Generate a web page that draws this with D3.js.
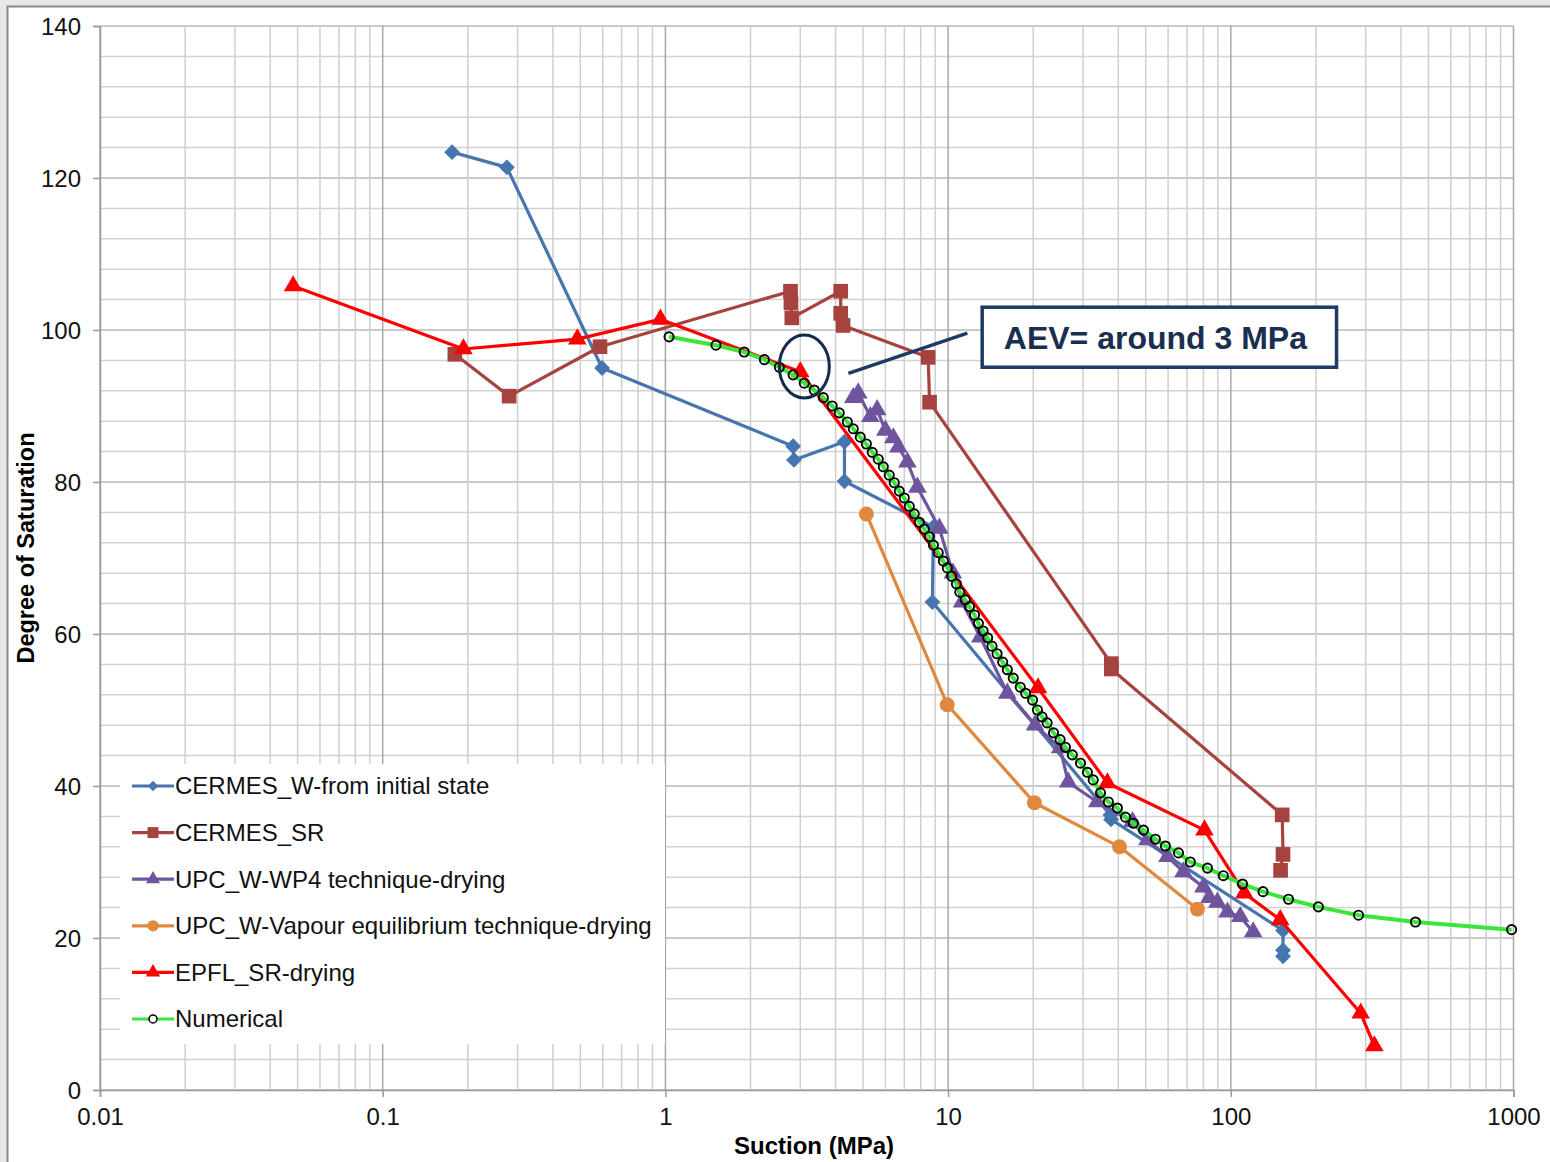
<!DOCTYPE html>
<html>
<head>
<meta charset="utf-8">
<script src="https://cdn.jsdelivr.net/npm/d3@7"></script>
<style>
  body { margin: 0; background: #e9e9e9; }
  svg { display: block; font-family: "Liberation Sans", Arial, sans-serif; }
</style>
</head>
<body>
<svg width="1550" height="1162"></svg>
<script>
// series: suction (MPa) and degree of saturation (%)
var cermesW_x = [0.176, 0.275, 0.597, 2.83, 2.85, 4.30, 4.30, 8.87, 8.80, 37.5, 37.7, 153, 153, 153];
var cermesW_y = [123.4, 121.4, 95.0, 84.7, 82.9, 85.3, 80.1, 74.1, 64.2, 36.2, 35.6, 21.0, 18.4, 17.6];

var cermesSR_x = [0.180, 0.280, 0.587, 2.77, 2.78, 2.80, 4.17, 4.17, 4.25, 8.5, 8.6, 37.8, 37.8, 152, 153, 150];
var cermesSR_y = [96.8, 91.3, 97.8, 105.1, 103.6, 101.6, 105.1, 102.2, 100.6, 96.4, 90.5, 56.1, 55.4, 36.2, 31.0, 28.9];

var upcWP4_x = [4.62, 4.81, 5.31, 5.61, 6.0, 6.4, 6.67, 7.18, 7.79, 9.31, 10.4, 11.2, 13.0, 16.2, 20.3, 24.9,
                26.6, 33.7, 44.9, 50.7, 59.7, 68, 80, 84, 89.7, 97.3, 108, 120];
var upcWP4_y = [91.1, 91.7, 88.6, 89.5, 86.8, 85.8, 84.6, 82.6, 79.3, 73.9, 68.0, 64.2, 59.6, 52.2, 48.0, 45.0,
                40.5, 37.9, 35.3, 32.9, 30.7, 28.7, 26.7, 25.3, 24.7, 23.4, 22.8, 20.8];

var upcVap_x = [5.14, 9.93, 20.2, 40.4, 76.2];
var upcVap_y = [75.8, 50.7, 37.8, 32.0, 23.8];

var epfl_x = [0.0482, 0.193, 0.488, 0.96, 3.0, 20.8, 36.6, 80.7, 111.6, 149.6, 288, 322];
var epfl_y = [105.8, 97.5, 98.8, 101.4, 94.5, 52.9, 40.4, 34.2, 25.9, 22.4, 10.1, 5.8];

var num_x = [1.03, 1.51, 1.90, 2.24, 2.53, 2.83, 3.10, 3.36, 3.62, 3.89, 4.12, 4.40, 4.62, 4.89, 5.14, 5.39,
             5.66, 5.90, 6.19, 6.45, 6.72, 7.00, 7.29, 7.59, 7.91, 8.24, 8.58, 8.87, 9.23, 9.62, 9.94, 10.3,
             10.7, 11.0, 11.5, 11.9, 12.4, 12.8, 13.3, 13.8, 14.3, 14.9, 15.6, 16.2, 17.0, 18.0, 18.8, 19.9,
             20.7, 21.5, 22.4, 23.6, 24.9, 26.0, 27.5, 29.4, 31.1, 32.6, 34.6, 36.9, 39.7, 42.4, 45.2, 49.1,
             54.1, 58.7, 65.3, 71.9, 82.7, 94.1, 110, 130, 160, 204, 283, 450, 985];
var num_y = [99.1, 98.0, 97.1, 96.1, 95.1, 94.1, 93.0, 92.1, 91.1, 90.0, 89.1, 87.9, 87.0, 85.9, 85.0, 83.9,
             83.0, 82.0, 80.9, 79.9, 78.8, 77.9, 76.8, 75.8, 74.7, 73.8, 72.8, 71.7, 70.7, 69.6, 68.7, 67.6,
             66.6, 65.5, 64.5, 63.6, 62.5, 61.4, 60.4, 59.5, 58.4, 57.4, 56.3, 55.3, 54.2, 53.0, 52.2, 51.3,
             50.0, 49.1, 48.3, 47.0, 46.1, 45.1, 44.1, 43.0, 41.8, 40.8, 39.1, 37.9, 37.1, 35.9, 35.1, 34.2,
             33.0, 32.1, 31.2, 30.0, 29.2, 28.2, 27.1, 26.1, 25.1, 24.1, 23.0, 22.1, 21.1];

var seriesNames = ["CERMES_W-from initial state", "CERMES_SR", "UPC_W-WP4 technique-drying",
                   "UPC_W-Vapour equilibrium technique-drying", "EPFL_SR-drying", "Numerical"];
var xTicks = [0.01, 0.1, 1, 10, 100, 1000];
var yTicks = [0, 20, 40, 60, 80, 100, 120, 140];

var svg = d3.select("svg"),
    margin = {left: 100, top: 26, right: 36, bottom: 72},
    width = +svg.attr("width"),
    height = +svg.attr("height");

// grey frame the chart sits in
svg.append("rect").attr("x", 0).attr("y", 0).attr("width", width).attr("height", height).attr("fill", "#e8e8e8");
svg.append("rect").attr("x", 7.5).attr("y", 6.5).attr("width", width).attr("height", height)
    .attr("fill", "#fff").attr("stroke", "#8a8a8a").attr("stroke-width", 2);

var x = d3.scaleLog().domain([0.01, 1000]).range([margin.left, width - margin.right - 0.5]);
var y = d3.scaleLinear().domain([0, 140]).range([height - margin.bottom, margin.top]);

// gridlines
var minorY = d3.range(0, 141, 4);
svg.append("g").selectAll("line").data(minorY).enter().append("line")
    .attr("x1", x(0.01)).attr("x2", x(1000))
    .attr("y1", function(d) { return y(d); }).attr("y2", function(d) { return y(d); })
    .attr("stroke", function(d) { return d % 20 === 0 ? "#b9b9b9" : "#d2d2d2"; })
    .attr("stroke-width", 1.5);

var minorX = [];
[0.01, 0.1, 1, 10, 100].forEach(function(b) { for (var k = 1; k < 10; k++) minorX.push(b * k); });
minorX.push(1000);
svg.append("g").selectAll("line").data(minorX).enter().append("line")
    .attr("x1", function(d) { return x(d); }).attr("x2", function(d) { return x(d); })
    .attr("y1", y(140)).attr("y2", y(0))
    .attr("stroke", function(d) { return xTicks.indexOf(d) >= 0 ? "#a8a8a8" : "#cfcfcf"; })
    .attr("stroke-width", 1.5);

// axes
var yAxis = svg.append("g").attr("transform", "translate(" + x(0.01) + ",0)")
    .call(d3.axisLeft(y).tickValues(yTicks).tickSize(7).tickPadding(12));
var xAxis = svg.append("g").attr("transform", "translate(0," + y(0) + ")")
    .call(d3.axisBottom(x).tickValues(xTicks).tickSize(7).tickPadding(11)
      .tickFormat(function(d) { return d < 1 ? String(d) : d3.format("d")(d); }));
[xAxis, yAxis].forEach(function(a) {
  a.selectAll("path").attr("stroke", "#9a9a9a").attr("stroke-width", 1.5);
  a.selectAll("line").attr("stroke", "#9a9a9a").attr("stroke-width", 1.5);
  a.selectAll("text").attr("font-size", 24).attr("fill", "#111").style("font-family", "Liberation Sans, Arial");
});
yAxis.selectAll("text").attr("dy", "0.35em");

svg.append("text").attr("x", 814).attr("y", 1154).attr("text-anchor", "middle")
    .attr("font-size", 24).attr("font-weight", "bold").text("Suction (MPa)");
svg.append("text").attr("transform", "translate(34,548) rotate(-90)").attr("text-anchor", "middle")
    .attr("font-size", 23.5).attr("font-weight", "bold").text("Degree of Saturation");

// legend background hides the grid underneath
var legendTop = 764;
svg.append("rect").attr("x", 120).attr("y", legendTop).attr("width", 545).attr("height", 280).attr("fill", "#fff");

var colors = ["#4675b0", "#a6433f", "#6e559d", "#e0883e", "#ff0000", "#3be63b"];

function zip(xs, ys) { return xs.map(function(v, i) { return [v, ys[i]]; }); }
var line = d3.line().x(function(d) { return x(d[0]); }).y(function(d) { return y(d[1]); });

var series = [
  {pts: zip(cermesW_x, cermesW_y), sym: d3.symbolSquare, size: 125, rot: 45, lsize: 55},
  {pts: zip(cermesSR_x, cermesSR_y), sym: d3.symbolSquare, size: 215, rot: 0, lsize: 120},
  {pts: zip(upcWP4_x, upcWP4_y), sym: d3.symbolTriangle, size: 150, rot: 0, lsize: 85},
  {pts: zip(upcVap_x, upcVap_y), sym: d3.symbolCircle, size: 175, rot: 0, lsize: 100},
  {pts: zip(epfl_x, epfl_y), sym: d3.symbolTriangle, size: 150, rot: 0, lsize: 90},
  {pts: zip(num_x, num_y), sym: null}
];

var plot = svg.append("g");
series.forEach(function(s, i) {
  plot.append("path").datum(s.pts).attr("d", line)
      .attr("fill", "none").attr("stroke", colors[i]).attr("stroke-width", i === 5 ? 4 : 3.2)
      .attr("stroke-linejoin", "round");
  if (s.sym) {
    plot.selectAll(".m" + i).data(s.pts).enter().append("path")
        .attr("class", "m" + i)
        .attr("d", d3.symbol().type(s.sym).size(s.size))
        .attr("transform", function(d) { return "translate(" + x(d[0]) + "," + y(d[1]) + ") rotate(" + s.rot + ")"; })
        .attr("fill", colors[i]);
  } else {
    plot.selectAll(".m" + i).data(s.pts).enter().append("circle")
        .attr("class", "m" + i)
        .attr("cx", function(d) { return x(d[0]); })
        .attr("cy", function(d) { return y(d[1]); })
        .attr("r", 4.6).attr("fill", "none").attr("stroke", "#000").attr("stroke-width", 1.9);
  }
});

// legend entries
var leg = svg.append("g").selectAll("g").data(series).enter().append("g")
    .attr("transform", function(d, i) { return "translate(132," + (786 + i * 46.6) + ")"; });
leg.append("line").attr("x1", 0).attr("x2", 42).attr("y1", 0).attr("y2", 0)
    .attr("stroke", function(d, i) { return colors[i]; }).attr("stroke-width", 3.2);
leg.each(function(s, i) {
  var g = d3.select(this);
  if (s.sym) {
    g.append("path").attr("d", d3.symbol().type(s.sym).size(s.lsize))
        .attr("transform", "translate(21,0) rotate(" + s.rot + ")").attr("fill", colors[i]);
  } else {
    g.append("circle").attr("cx", 21).attr("cy", 0).attr("r", 4)
        .attr("fill", "#fff").attr("stroke", "#000").attr("stroke-width", 1.5);
  }
});
leg.append("text").attr("x", 43).attr("dy", "0.35em").attr("font-size", 24).attr("fill", "#111")
    .text(function(d, i) { return seriesNames[i]; });

// AEV annotation
var navy = "#1f3a63";
svg.append("ellipse").attr("cx", x(3.10)).attr("cy", y(95.2)).attr("rx", 25).attr("ry", 31.5)
    .attr("fill", "none").attr("stroke", "#142c4c").attr("stroke-width", 3);
svg.append("line").attr("x1", x(4.44)).attr("y1", y(94.3)).attr("x2", x(11.7)).attr("y2", y(99.6))
    .attr("stroke", navy).attr("stroke-width", 3.5);
svg.append("rect").attr("x", x(13.2)).attr("y", y(103.0))
    .attr("width", x(236.6) - x(13.2)).attr("height", y(95.1) - y(103.0))
    .attr("fill", "#fff").attr("stroke", navy).attr("stroke-width", 3.5);
svg.append("text").attr("x", (x(13.2) + x(236.6)) / 2 - 4).attr("y", y(99.05)).attr("dy", "0.36em")
    .attr("text-anchor", "middle").attr("font-size", 32).attr("font-weight", "bold").attr("fill", "#1a2e4f")
    .text("AEV= around 3 MPa");
</script>
</body>
</html>
